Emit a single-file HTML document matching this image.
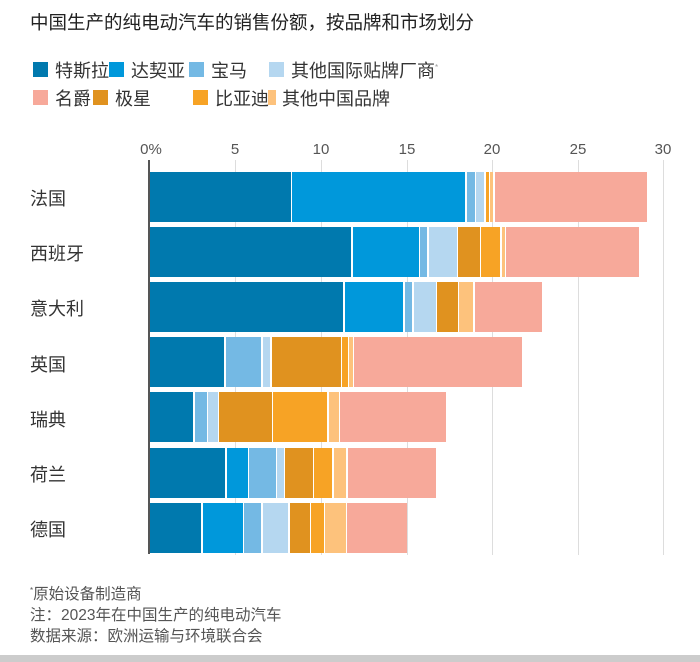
<!DOCTYPE html>
<html><head><meta charset="utf-8"><style>
body{margin:0;width:700px;height:662px;background:#fff;position:relative;overflow:hidden;font-family:"Liberation Sans","Noto Sans CJK SC",sans-serif;color:#333}
div{position:absolute}
.t{left:30px;top:9px;font-size:18.5px;color:#222}
.lg{font-size:18px;color:#333;white-space:nowrap}
.sw{width:15px;height:15px}
.tick{top:141px;font-size:15px;color:#555;transform:translateX(-50%)}
.grid{top:160px;height:395px;width:1px;background:#ddd}
.cat{left:30px;font-size:18px;color:#333}
.s{height:50px}
.fn{left:30px;font-size:15.5px;color:#555}
</style></head><body>
<div class="t">中国生产的纯电动汽车的销售份额，按品牌和市场划分</div>

<div class="sw" style="left:33px;top:62px;background:#0079AE"></div><div class="lg" style="left:55px;top:57px">特斯拉</div>
<div class="sw" style="left:109px;top:62px;background:#0098DB"></div><div class="lg" style="left:131px;top:57px">达契亚</div>
<div class="sw" style="left:189px;top:62px;background:#74B9E4"></div><div class="lg" style="left:211px;top:57px">宝马</div>
<div class="sw" style="left:269px;top:62px;background:#B5D7F0"></div><div class="lg" style="left:291px;top:57px">其他国际贴牌厂商<sup style="font-size:8px;color:#999">*</sup></div>
<div class="sw" style="left:33px;top:90px;background:#F7A99A"></div><div class="lg" style="left:55px;top:85px">名爵</div>
<div class="sw" style="left:93px;top:90px;background:#E0921F"></div><div class="lg" style="left:115px;top:85px">极星</div>
<div class="sw" style="left:193px;top:90px;background:#F7A325"></div><div class="lg" style="left:215px;top:85px">比亚迪</div>
<div class="sw" style="left:268px;top:90px;background:#FDC27C;width:8px"></div><div class="lg" style="left:282px;top:85px">其他中国品牌</div>

<div class="tick" style="left:151px">0%</div>
<div class="tick" style="left:235px">5</div>
<div class="tick" style="left:321px">10</div>
<div class="tick" style="left:407px">15</div>
<div class="tick" style="left:492px">20</div>
<div class="tick" style="left:578px">25</div>
<div class="tick" style="left:663px">30</div>
<div class="grid" style="left:235px"></div><div class="grid" style="left:321px"></div><div class="grid" style="left:407px"></div><div class="grid" style="left:492px"></div><div class="grid" style="left:578px"></div><div class="grid" style="left:663px"></div>

<div class="cat" style="top:185px">法国</div>
<div class="cat" style="top:240px">西班牙</div>
<div class="cat" style="top:295px">意大利</div>
<div class="cat" style="top:351px">英国</div>
<div class="cat" style="top:406px">瑞典</div>
<div class="cat" style="top:461px">荷兰</div>
<div class="cat" style="top:516px">德国</div>

<!-- France -->
<div class="s" style="top:172px;left:149px;width:142px;background:#0079AE"></div>
<div class="s" style="top:172px;left:292px;width:173px;background:#0098DB"></div>
<div class="s" style="top:172px;left:467px;width:8px;background:#74B9E4"></div>
<div class="s" style="top:172px;left:476px;width:8px;background:#B5D7F0"></div>
<div class="s" style="top:172px;left:486px;width:3px;background:#F7A325"></div>
<div class="s" style="top:172px;left:490px;width:3px;background:#FDC27C"></div>
<div class="s" style="top:172px;left:495px;width:152px;background:#F7A99A"></div>
<!-- Spain -->
<div class="s" style="top:227px;left:149px;width:202px;background:#0079AE"></div>
<div class="s" style="top:227px;left:353px;width:66px;background:#0098DB"></div>
<div class="s" style="top:227px;left:420px;width:7px;background:#74B9E4"></div>
<div class="s" style="top:227px;left:429px;width:28px;background:#B5D7F0"></div>
<div class="s" style="top:227px;left:458px;width:22px;background:#E0921F"></div>
<div class="s" style="top:227px;left:481px;width:19px;background:#F7A325"></div>
<div class="s" style="top:227px;left:502px;width:3px;background:#FDC27C"></div>
<div class="s" style="top:227px;left:506px;width:133px;background:#F7A99A"></div>
<!-- Italy -->
<div class="s" style="top:282px;left:149px;width:194px;background:#0079AE"></div>
<div class="s" style="top:282px;left:345px;width:58px;background:#0098DB"></div>
<div class="s" style="top:282px;left:405px;width:7px;background:#74B9E4"></div>
<div class="s" style="top:282px;left:414px;width:22px;background:#B5D7F0"></div>
<div class="s" style="top:282px;left:437px;width:21px;background:#E0921F"></div>
<div class="s" style="top:282px;left:459px;width:14px;background:#FDC27C"></div>
<div class="s" style="top:282px;left:475px;width:67px;background:#F7A99A"></div>
<!-- UK -->
<div class="s" style="top:337px;left:149px;width:75px;background:#0079AE"></div>
<div class="s" style="top:337px;left:226px;width:35px;background:#74B9E4"></div>
<div class="s" style="top:337px;left:263px;width:7px;background:#B5D7F0"></div>
<div class="s" style="top:337px;left:272px;width:69px;background:#E0921F"></div>
<div class="s" style="top:337px;left:342px;width:6px;background:#F7A325"></div>
<div class="s" style="top:337px;left:349px;width:4px;background:#FDC27C"></div>
<div class="s" style="top:337px;left:354px;width:168px;background:#F7A99A"></div>
<!-- Sweden -->
<div class="s" style="top:392px;left:149px;width:44px;background:#0079AE"></div>
<div class="s" style="top:392px;left:195px;width:12px;background:#74B9E4"></div>
<div class="s" style="top:392px;left:208px;width:10px;background:#B5D7F0"></div>
<div class="s" style="top:392px;left:219px;width:53px;background:#E0921F"></div>
<div class="s" style="top:392px;left:273px;width:54px;background:#F7A325"></div>
<div class="s" style="top:392px;left:329px;width:10px;background:#FDC27C"></div>
<div class="s" style="top:392px;left:340px;width:106px;background:#F7A99A"></div>
<!-- Netherlands -->
<div class="s" style="top:448px;left:149px;width:76px;background:#0079AE"></div>
<div class="s" style="top:448px;left:227px;width:21px;background:#0098DB"></div>
<div class="s" style="top:448px;left:249px;width:27px;background:#74B9E4"></div>
<div class="s" style="top:448px;left:277px;width:7px;background:#B5D7F0"></div>
<div class="s" style="top:448px;left:285px;width:28px;background:#E0921F"></div>
<div class="s" style="top:448px;left:314px;width:18px;background:#F7A325"></div>
<div class="s" style="top:448px;left:334px;width:12px;background:#FDC27C"></div>
<div class="s" style="top:448px;left:348px;width:88px;background:#F7A99A"></div>
<!-- Germany -->
<div class="s" style="top:503px;left:149px;width:52px;background:#0079AE"></div>
<div class="s" style="top:503px;left:203px;width:40px;background:#0098DB"></div>
<div class="s" style="top:503px;left:244px;width:17px;background:#74B9E4"></div>
<div class="s" style="top:503px;left:263px;width:25px;background:#B5D7F0"></div>
<div class="s" style="top:503px;left:290px;width:20px;background:#E0921F"></div>
<div class="s" style="top:503px;left:311px;width:13px;background:#F7A325"></div>
<div class="s" style="top:503px;left:325px;width:21px;background:#FDC27C"></div>
<div class="s" style="top:503px;left:347px;width:60px;background:#F7A99A"></div>

<div style="left:148px;top:160px;width:2px;height:394px;background:#555"></div>

<div class="fn" style="top:582px"><sup style="font-size:8px">*</sup>原始设备制造商</div>
<div class="fn" style="top:603px">注：2023年在中国生产的纯电动汽车</div>
<div class="fn" style="top:624px">数据来源：欧洲运输与环境联合会</div>
<div style="left:0;top:655px;width:700px;height:7px;background:#ccc"></div>
</body></html>
